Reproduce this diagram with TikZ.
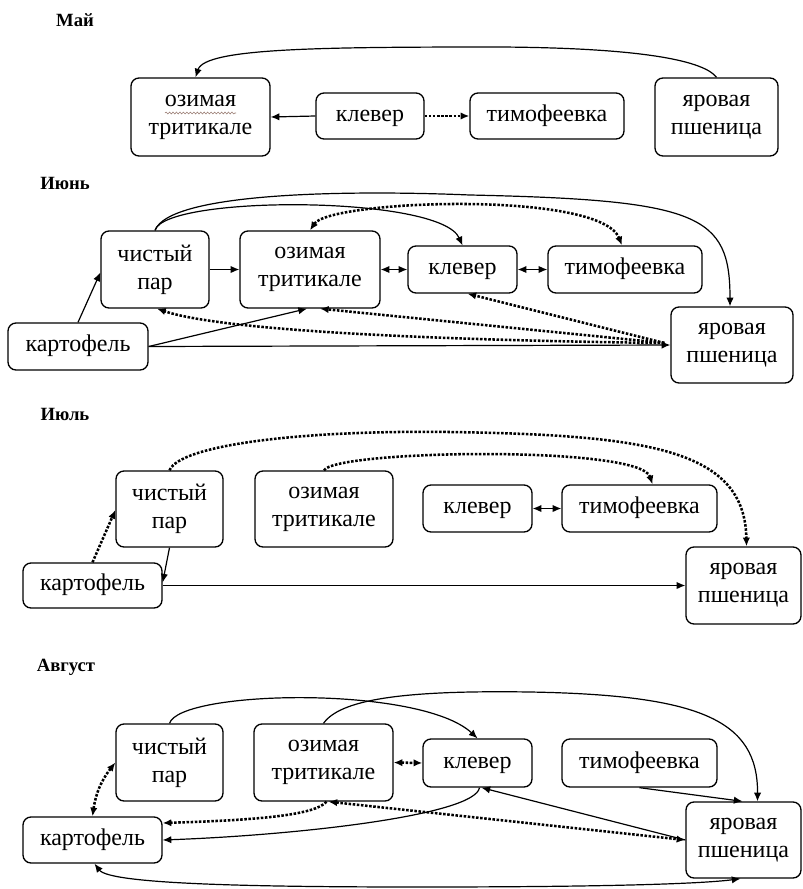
\documentclass[tikz,border=0pt]{standalone}
\usepackage{fontspec}
\setmainfont{Liberation Serif}
\usetikzlibrary{arrows.meta,calc,decorations.pathmorphing}
\begin{document}
\begin{tikzpicture}[x=0.75pt,y=-0.75pt,
  box/.style={draw,line width=1pt,rounded corners=6pt,inner sep=0pt,align=center,
    font=\fontsize{18}{21}\selectfont},
  onel/.style={text height=8.2pt,text depth=0pt},
  ttl/.style={font=\bfseries\fontsize{14}{16}\selectfont},
  conn/.style={line width=0.9pt,-{Latex[length=6.5pt,width=5.5pt]}},
  conntwo/.style={line width=0.9pt,{Latex[length=6.5pt,width=5.5pt]}-{Latex[length=6.5pt,width=5.5pt]}},
  dconn/.style={line width=1.9pt,dash pattern=on 1.9pt off 1.2pt,-{Latex[length=6.5pt,width=5.5pt]}},
  dconntwo/.style={line width=1.9pt,dash pattern=on 1.9pt off 1.2pt,{Latex[length=6.5pt,width=5.5pt]}-{Latex[length=6.5pt,width=5.5pt]}},
]
\fill[white] (0,0) rectangle (803,889);
\useasboundingbox (0,0) rectangle (803,889);

% ---------------- Май
\node[ttl] (t1) at (75,20) {Май};
\node[box,minimum width=104.25pt,minimum height=58.5pt] (m_oz) at (200.5,117) {озимая\\тритикале};
\node[box,onel,minimum width=81pt,minimum height=34.5pt] (m_kl) at (370,116) {клевер};
\node[box,onel,minimum width=115.5pt,minimum height=34.5pt] (m_ti) at (547,116) {тимофеевка};
\node[box,minimum width=92.25pt,minimum height=58.5pt] (m_ya) at (716.5,117) {яровая\\пшеница};
\coordinate (w1) at (165,113);
\coordinate (w2) at (236,113);
\draw[line width=0.4pt,color={rgb,255:red,150;green,120;blue,110},decorate,decoration={snake,amplitude=0.7pt,segment length=2.6pt}] (w1) -- (w2);

\draw[conn] (m_ya.north) .. controls (705,62) and (650,48) .. (500,47) .. controls (320,47) and (205,48) .. ($(m_oz.north)+(-5,0)$);
\draw[conn] (m_kl.west) -- (m_oz.east);
\draw[dconn] (m_kl.east) -- (m_ti.west);

% ---------------- Июнь
\node[ttl] (t2) at (65,183) {Июнь};
\node[box,minimum width=81pt,minimum height=57.75pt] (j_ch) at (155,269.5) {чистый\\пар};
\node[box,minimum width=105pt,minimum height=57.75pt] (j_oz) at (310,269.5) {озимая\\тритикале};
\node[box,onel,minimum width=81.75pt,minimum height=35.25pt] (j_kl) at (462.5,269.5) {клевер};
\node[box,onel,minimum width=115.5pt,minimum height=35.25pt] (j_ti) at (625,269.5) {тимофеевка};
\node[box,onel,minimum width=105pt,minimum height=35.25pt] (j_ka) at (78,346.5) {картофель};
\node[box,minimum width=91.5pt,minimum height=57pt] (j_ya) at (732,345) {яровая\\пшеница};

\draw[conn] (j_ch.north) .. controls (165,195) and (440,195) .. (j_kl.north);
\draw[conn] (j_ch.north) .. controls (170,192) and (350,190) .. (470,195) .. controls (700,200) and (730,215) .. ($(j_ya.north)+(-2,0)$);
\draw[dconntwo] (j_oz.north) .. controls (330,200) and (600,190) .. ($(j_ti.north)+(-3,0)$);
\draw[conn] (j_ch.east) -- (j_oz.west);
\draw[conntwo] (j_oz.east) -- (j_kl.west);
\draw[conntwo] (j_kl.east) -- (j_ti.west);
\draw[conn] (j_ka.north) -- ($(j_ch.west)+(0,3)$);
\draw[conn] (j_ka.east) -- ($(j_oz.south)+(-3,0)$);
\draw[conn] (j_ka.east) -- (j_ya.west);
\draw[dconn] ($(j_ya.west)+(-6,-2)$) .. controls (420,340) and (220,330) .. ($(j_ch.south)+(2,0)$);
\draw[dconn] ($(j_ya.west)+(-6,-2)$) -- ($(j_oz.south)+(10,0)$);
\draw[dconn] ($(j_ya.west)+(-6,-2)$) -- ($(j_kl.south)+(5,0)$);

% ---------------- Июль
\node[ttl] (t3) at (65,414) {Июль};
\node[box,minimum width=80.25pt,minimum height=57pt] (l_ch) at (169.5,509) {чистый\\пар};
\node[box,minimum width=103.5pt,minimum height=57pt] (l_oz) at (324,509) {озимая\\тритикале};
\node[box,onel,minimum width=81.75pt,minimum height=35.25pt] (l_kl) at (477.5,508.5) {клевер};
\node[box,onel,minimum width=116.25pt,minimum height=35.25pt] (l_ti) at (639.5,508.5) {тимофеевка};
\node[box,onel,minimum width=104.25pt,minimum height=33.75pt] (l_ka) at (92.5,585.5) {картофель};
\node[box,minimum width=86.25pt,minimum height=57.75pt] (l_ya) at (743.5,585.5) {яровая\\пшеница};

\draw[dconn] (l_ka.north) -- ($(l_ch.west)+(0,1)$);
\draw[conn] (l_ch.south) -- ($(l_ka.east)+(0,-3)$);
\draw[conn] (l_ka.east) -- (l_ya.west);
\draw[dconn] (l_ch.north) .. controls (180,445) and (300,430) .. (450,432) .. controls (650,435) and (745,450) .. ($(l_ya.north)+(3,0)$);
\draw[dconn] (l_oz.north) .. controls (335,450) and (640,445) .. ($(l_ti.north)+(13,0)$);
\draw[conntwo] (l_kl.east) -- (l_ti.west);

% ---------------- Август
\node[ttl] (t4) at (66,667) {Август};
\node[box,minimum width=80.25pt,minimum height=57.75pt] (a_ch) at (169.5,762.5) {чистый\\пар};
\node[box,minimum width=104.25pt,minimum height=57.75pt] (a_oz) at (323.5,762.5) {озимая\\тритикале};
\node[box,onel,minimum width=81.75pt,minimum height=36pt] (a_kl) at (477.5,763) {клевер};
\node[box,onel,minimum width=116.25pt,minimum height=36pt] (a_ti) at (639.5,763) {тимофеевка};
\node[box,onel,minimum width=104.25pt,minimum height=34.5pt] (a_ka) at (92.5,840) {картофель};
\node[box,minimum width=86.25pt,minimum height=57pt] (a_ya) at (743.5,840) {яровая\\пшеница};

\draw[conn] (a_ch.north) .. controls (180,690) and (420,685) .. (a_kl.north);
\draw[conn] (a_oz.north) .. controls (340,700) and (400,690) .. (530,692) .. controls (700,695) and (758,720) .. ($(a_ya.north)+(14,0)$);
\draw[conn] (a_ti.south) -- ($(a_ya.north)+(-1,0)$);
\draw[dconntwo] (a_oz.east) -- (a_kl.west);
\draw[dconntwo] (a_ka.north) to[bend left=15] (a_ch.west);
\draw[dconn] ($(a_oz.south)+(3,0)$) .. controls (315,815) and (260,820) .. ($(a_ka.east)+(0,-17)$);
\draw[dconntwo] ($(a_oz.south)+(5,0)$) -- (a_ya.west);
\draw[conn] (a_ya.west) -- ($(a_kl.south)+(4,0)$);
\draw[conn] ($(a_kl.south)+(2,0)$) .. controls (475,815) and (300,835) .. (a_ka.east);
\draw[conntwo] ($(a_ka.south)+(2,0)$) .. controls (110,884) and (250,887) .. (420,887) .. controls (600,887) and (700,884) .. ($(a_ya.south)+(-3,0)$);
\end{tikzpicture}
\end{document}
